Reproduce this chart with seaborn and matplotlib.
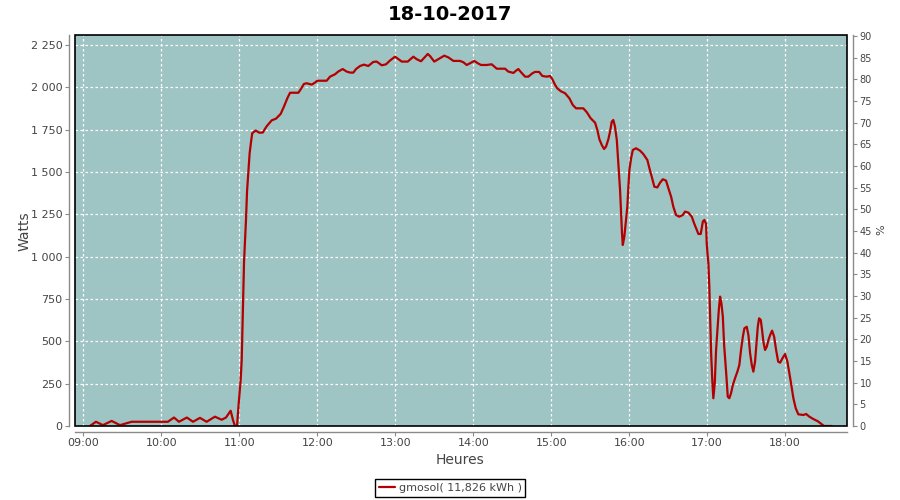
import numpy as np
import pandas as pd
import matplotlib
matplotlib.use("Agg")
import matplotlib.pyplot as plt
import matplotlib.dates as mdates
from matplotlib.ticker import FuncFormatter, FixedLocator
from matplotlib.patches import Rectangle
import seaborn as sns

sns.set_theme(style="white")
plt.rcParams['font.family'] = ['DejaVu Sans']

title = "18-10-2017"
series_name = "gmosol( 11,826 kWh )"
x_label = "Heures"
y_label = "Watts"
y2_label = "%"

times = ["09:05:00", "09:09:36", "09:15:00", "09:21:42", "09:28:06", "09:37:06",
         "10:05:00", "10:09:42", "10:13:30", "10:19:36", "10:24:18", "10:29:42", "10:34:48",
         "10:41:12", "10:46:24", "10:49:42", "10:53:18", "10:55:06", "10:56:36", "10:58:12",
         "10:59:30", "11:01:00", "11:01:48", "11:02:12", "11:03:00", "11:03:36", "11:04:18",
         "11:05:06", "11:05:54", "11:06:54", "11:07:54", "11:08:54", "11:09:54", "11:12:36",
         "11:15:18", "11:18:00", "11:21:00", "11:24:54", "11:28:12", "11:31:48", "11:34:18",
         "11:36:54", "11:39:00", "11:45:24", "11:47:12", "11:49:42", "11:51:48", "11:55:42",
         "11:58:12", "12:00:00", "12:07:12", "12:09:48", "12:13:36", "12:16:06", "12:19:30",
         "12:22:36", "12:25:12", "12:27:42", "12:29:48", "12:32:54", "12:35:54", "12:39:12",
         "12:43:06", "12:45:42", "12:49:36", "12:52:54", "12:55:54", "12:59:48", "13:05:00",
         "13:09:36", "13:13:54", "13:16:30", "13:19:48", "13:25:00", "13:26:42", "13:30:00",
         "13:34:24", "13:37:42", "13:40:48", "13:44:42", "13:49:48", "13:52:24", "13:55:00",
         "13:57:30", "14:00:48", "14:03:30", "14:06:00", "14:10:24", "14:14:12", "14:18:06",
         "14:24:30", "14:27:00", "14:30:54", "14:32:54", "14:34:42", "14:36:48", "14:39:54",
         "14:42:24", "14:45:30", "14:47:36", "14:50:42", "14:53:12", "14:56:36", "14:59:06",
         "15:00:54", "15:03:00", "15:04:42", "15:07:24", "15:10:42", "15:14:00", "15:16:36",
         "15:19:06", "15:24:42", "15:27:24", "15:30:24", "15:33:48", "15:35:30", "15:37:06",
         "15:38:54", "15:40:42", "15:42:12", "15:44:00", "15:45:18", "15:46:36", "15:47:48",
         "15:49:06", "15:50:30", "15:51:42", "15:53:00", "15:53:48", "15:54:30", "15:55:06",
         "15:56:18", "15:57:36", "15:58:36", "15:59:24", "16:00:12", "16:01:30", "16:02:48",
         "16:05:18", "16:08:24", "16:10:54", "16:14:00", "16:15:36", "16:17:24", "16:19:24",
         "16:21:42", "16:23:48", "16:25:54", "16:28:24", "16:30:12", "16:32:18", "16:34:00",
         "16:36:06", "16:38:36", "16:41:18", "16:43:00", "16:45:36", "16:48:12", "16:50:00",
         "16:52:00", "16:53:18", "16:55:06", "16:56:42", "16:57:54", "16:59:12", "16:59:42",
         "17:00:30", "17:01:00", "17:01:42", "17:02:30", "17:03:06", "17:04:06", "17:04:48",
         "17:05:54", "17:06:54", "17:07:54", "17:09:00", "17:10:00", "17:11:00", "17:12:06",
         "17:13:06", "17:14:36", "17:15:54", "17:17:06", "17:18:24", "17:19:48", "17:21:30",
         "17:23:18", "17:24:48", "17:26:06", "17:27:30", "17:28:42", "17:30:30", "17:31:48",
         "17:33:06", "17:34:24", "17:35:36", "17:36:54", "17:37:54", "17:39:00", "17:40:00",
         "17:41:18", "17:42:18", "17:43:18", "17:44:36", "17:45:54", "17:47:12", "17:48:30",
         "17:50:00", "17:51:36", "17:53:06", "17:54:42", "17:56:12", "17:58:00", "18:00:00",
         "18:01:48", "18:03:18", "18:04:36", "18:06:24", "18:08:12", "18:10:12", "18:14:06",
         "18:16:12", "18:18:42", "18:21:48", "18:25:12", "18:28:12", "18:30:00", "18:36:00"]

watts = [0, 25, 5, 30, 5, 25,
         25, 50, 25, 50, 25, 48, 25,
         55, 37, 50, 90, 35, 0, 0,
         135, 270, 390, 520, 765, 970, 1090,
         1217, 1384, 1502, 1610, 1673, 1729, 1745,
         1732, 1733, 1770, 1805, 1815, 1843, 1886,
         1935, 1968, 1968, 1988, 2020, 2024, 2016,
         2028, 2039, 2039, 2063, 2077, 2093, 2108,
         2093, 2087, 2087, 2108, 2126, 2134, 2126,
         2150, 2152, 2130, 2136, 2158, 2181, 2152,
         2152, 2181, 2166, 2154, 2197, 2185, 2152,
         2172, 2187, 2177, 2156, 2156, 2148, 2132,
         2142, 2156, 2142, 2132, 2132, 2136, 2110,
         2110, 2093, 2085, 2098, 2108, 2089, 2063,
         2063, 2083, 2091, 2091, 2067, 2063, 2067,
         2048, 2014, 1994, 1977, 1965, 1935, 1896,
         1876, 1876, 1853, 1817, 1791, 1748, 1693,
         1660, 1636, 1650, 1693, 1738, 1797, 1807,
         1768, 1689, 1551, 1394, 1256, 1138, 1069,
         1118, 1217, 1295, 1413, 1512, 1581, 1630,
         1640, 1626, 1606, 1571, 1522, 1472, 1413,
         1409, 1437, 1457, 1449, 1404, 1354, 1295,
         1246, 1236, 1246, 1266, 1260, 1236, 1197,
         1158, 1134, 1134, 1207, 1217, 1193, 1079,
         1000, 961, 823, 606, 429, 252, 164,
         254, 449, 557, 685, 764, 725, 646,
         478, 321, 173, 164, 193, 242, 282,
         321, 360, 449, 527, 577, 586, 537,
         429, 360, 321, 380, 478, 586, 636,
         626, 567, 498, 449, 468, 508, 537,
         563, 527, 449, 380, 374, 400, 425,
         380, 311, 252, 164, 105, 69, 65,
         71, 55, 41, 28, 10, 0, 0]

y_ticks = list(range(0, 2251, 250))
pct_ticks = list(range(0, 91, 5))
hour_ticks = ["09:00", "10:00", "11:00", "12:00", "13:00", "14:00", "15:00", "16:00", "17:00", "18:00"]

day = "2017-10-18 "
df = pd.DataFrame({"time": pd.to_datetime([day + t for t in times]), "watts": watts})

fig = plt.figure(figsize=(9, 5), dpi=100)
fig.patch.set_facecolor("white")
ax = fig.add_axes([75 / 900, 1 - 426 / 500, (847 - 75) / 900, (426 - 35) / 500])
ax.set_facecolor("#9FC4C4")

sns.lineplot(data=df, x="time", y="watts", ax=ax, estimator=None, sort=False,
             color="#B40000", linewidth=1.6, legend=False)
line = ax.get_lines()[0]

ax.set_xlim(pd.Timestamp(day + "08:53:30"), pd.Timestamp(day + "18:47:40"))
ax.set_ylim(0, 2309)

ax.xaxis.set_major_locator(FixedLocator(mdates.date2num(pd.to_datetime([day + h for h in hour_ticks]))))
ax.xaxis.set_major_formatter(mdates.DateFormatter("%H:%M"))
ax.set_yticks(y_ticks)
ax.yaxis.set_major_formatter(FuncFormatter(lambda v, p: f"{int(v):,}".replace(",", " ")))

ax.grid(True, color="white", linestyle=(0, (2, 2)), linewidth=0.9)
ax.set_axisbelow(True)

grey = "#8A8A8A"
txt = "#444444"
for s in ["top", "right"]:
    ax.spines[s].set_visible(False)
for s in ["left", "bottom"]:
    ax.spines[s].set_position(("outward", 4))
    ax.spines[s].set_color(grey)
    ax.spines[s].set_linewidth(1.0)
ax.tick_params(axis="both", direction="out", length=3, width=0.8, color=grey,
               labelsize=8, labelcolor=txt, pad=2, left=True, bottom=True)
ax.set_xlabel("")
ax.set_ylabel("")

ax.add_patch(Rectangle((0, 0), 1, 1, transform=ax.transAxes, fill=False,
                       edgecolor="black", linewidth=1.2, zorder=5, clip_on=False))

ax2 = ax.twinx()
ax2.set_ylim(0, 90.2)
ax2.set_yticks(pct_ticks)
for s in ["top", "left", "bottom"]:
    ax2.spines[s].set_visible(False)
ax2.spines["right"].set_position(("outward", 4))
ax2.spines["right"].set_color(grey)
ax2.spines["right"].set_linewidth(1.0)
ax2.tick_params(axis="y", direction="out", length=3, width=0.8, color=grey,
                labelsize=7, labelcolor=txt, pad=2, right=True)
ax2.grid(False)

fig.text(0.5, 1 - 14 / 500, title, ha="center", va="center", fontsize=14,
         fontweight="bold", color="black")
fig.text(25 / 900, 1 - 231 / 500, y_label, ha="center", va="center", rotation=90,
         fontsize=10, color=txt)
fig.text(460 / 900, 1 - 460 / 500, x_label, ha="center", va="center", fontsize=10, color=txt)
fig.text(881 / 900, 1 - 230 / 500, y2_label, ha="center", va="center", rotation=90,
         fontsize=8, color=txt)

leg = fig.legend(handles=[line], labels=[series_name], loc="center",
                 bbox_to_anchor=(0.5, 1 - 488 / 500), frameon=True, fancybox=False,
                 edgecolor="black", facecolor="white", fontsize=8, handlelength=1.5,
                 borderpad=0.35, handletextpad=0.3, borderaxespad=0, framealpha=1)
leg.get_frame().set_linewidth(1.0)
for t in leg.get_texts():
    t.set_color(txt)

fig.savefig("out.png", dpi=100)
